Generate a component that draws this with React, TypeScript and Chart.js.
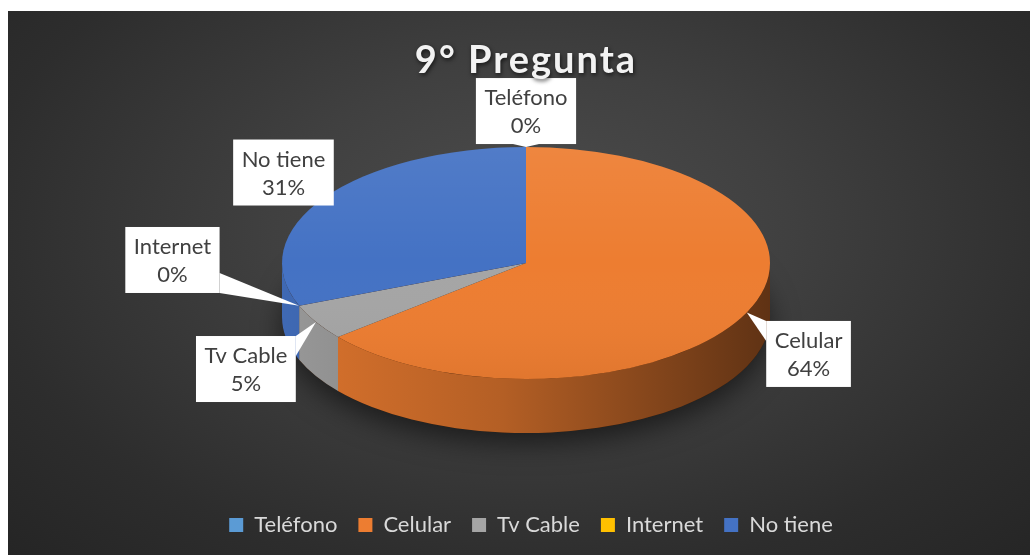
import React, { useEffect, useRef } from "react";
import { Chart, registerables } from "chart.js";

Chart.register(...registerables);

const titleText = "9° Pregunta";
const categories = ["Teléfono", "Celular", "Tv Cable", "Internet", "No tiene"];
const values = [0, 64, 5, 0, 31];
const colors = ["#5B9BD5", "#ED7D31", "#A5A5A5", "#FFC000", "#4472C4"];

// layout of the 3D pie (canvas pixels) and callout placement (relative to pie radii)
const PIE = { cx: 518, cy: 252, rx: 244, ry: 116, depth: 54 };
const labelPlacement = [
  [0, -1.31],
  [1.158, 0.784],
  [-1.148, 0.914],
  [-1.449, -0.026],
  [-0.994, -0.78],
];

const FONT = "Lato, 'Open Sans', sans-serif";

function shade(hex: string, f: number) {
  const n = parseInt(hex.slice(1), 16);
  const r = Math.round(((n >> 16) & 255) * f);
  const g = Math.round(((n >> 8) & 255) * f);
  const b = Math.round((n & 255) * f);
  return `rgb(${Math.min(255, r)},${Math.min(255, g)},${Math.min(255, b)})`;
}

const pie3d = {
  id: "pie3d",
  beforeDatasetsDraw(chart: any) {
    const ctx = chart.ctx as CanvasRenderingContext2D;
    const arcs = chart.getDatasetMeta(0).data;
    if (!arcs.length) return;
    const { cx, cy, rx, ry, depth } = PIE;
    ctx.save();
    // soft shadow under the pie
    ctx.save();
    ctx.shadowColor = "rgba(0,0,0,0.55)";
    ctx.shadowBlur = 28;
    ctx.shadowOffsetY = 10;
    ctx.beginPath();
    ctx.ellipse(cx, cy + depth, rx, ry, 0, 0, Math.PI * 2);
    ctx.fillStyle = "#3a1c08";
    ctx.fill();
    ctx.restore();
    // extruded sides
    arcs.forEach((arc: any, i: number) => {
      const p = arc.getProps(["startAngle", "endAngle"], true);
      const a0 = Math.max(p.startAngle, 0);
      const a1 = Math.min(p.endAngle, Math.PI);
      if (a1 <= a0) return;
      const base = colors[i];
      const grad = ctx.createLinearGradient(cx - rx, 0, cx + rx, 0);
      grad.addColorStop(0, shade(base, 0.92));
      grad.addColorStop(0.45, shade(base, 0.76));
      grad.addColorStop(1, shade(base, 0.4));
      ctx.beginPath();
      ctx.ellipse(cx, cy, rx, ry, 0, a0, a1, false);
      ctx.ellipse(cx, cy + depth, rx, ry, 0, a1, a0, true);
      ctx.closePath();
      ctx.fillStyle = grad;
      ctx.fill();
    });
    // map the library's circular pie onto the ellipse top face
    const a = arcs[0];
    const { x, y, outerRadius } = a.getProps(["x", "y", "outerRadius"], true);
    ctx.translate(cx, cy);
    ctx.scale(rx / outerRadius, ry / outerRadius);
    ctx.translate(-x, -y);
  },
  afterDatasetsDraw(chart: any) {
    const ctx = chart.ctx as CanvasRenderingContext2D;
    ctx.restore();
    const { cx, cy, rx, ry } = PIE;
    // light overlay on top face
    ctx.save();
    ctx.beginPath();
    ctx.ellipse(cx, cy, rx, ry, 0, 0, Math.PI * 2);
    ctx.clip();
    const g = ctx.createLinearGradient(0, cy - ry, 0, cy + ry);
    g.addColorStop(0, "rgba(255,255,255,0.07)");
    g.addColorStop(0.5, "rgba(255,255,255,0.0)");
    g.addColorStop(1, "rgba(0,0,0,0.05)");
    ctx.fillStyle = g;
    ctx.fillRect(cx - rx, cy - ry, rx * 2, ry * 2);
    ctx.restore();

    // callout labels
    const arcs = chart.getDatasetMeta(0).data;
    const data = chart.data.datasets[0].data as number[];
    const total = data.reduce((s, v) => s + v, 0);
    ctx.save();
    ctx.font = `22px ${FONT}`;
    arcs.forEach((arc: any, i: number) => {
      const p = arc.getProps(["startAngle", "endAngle"], true);
      const mid = (p.startAngle + p.endAngle) / 2;
      const ax = cx + rx * Math.cos(mid);
      const ay = cy + ry * Math.sin(mid);
      const name = chart.data.labels[i];
      const pct = Math.round((data[i] / total) * 100) + "%";
      const w = Math.max(ctx.measureText(name).width, ctx.measureText(pct).width) + 17;
      const h = 66;
      const bx = cx + labelPlacement[i][0] * rx;
      const by = cy + labelPlacement[i][1] * ry;
      const L = bx - w / 2, R = bx + w / 2, T = by - h / 2, B = by + h / 2;
      ctx.fillStyle = "#ffffff";
      // leader wedge
      const px = Math.min(Math.max(ax, L), R);
      const py = Math.min(Math.max(ay, T), B);
      const dx = Math.abs(ax - px), dy = Math.abs(ay - py);
      if (dx > 0 || dy > 0) {
        ctx.beginPath();
        if (dy >= dx) {
          const x0 = Math.min(Math.max(px - 13, L), R - 26);
          ctx.moveTo(x0, py);
          ctx.lineTo(x0 + 26, py);
        } else {
          const y0 = Math.min(Math.max(py - 10, T), B - 20);
          ctx.moveTo(px, y0);
          ctx.lineTo(px, y0 + 20);
        }
        ctx.lineTo(ax, ay);
        ctx.closePath();
        ctx.fill();
      }
      ctx.fillRect(L, T, w, h);
      ctx.fillStyle = "#404040";
      ctx.textAlign = "center";
      ctx.textBaseline = "alphabetic";
      ctx.fillText(name, bx, by - 6);
      ctx.fillText(pct, bx, by + 22);
    });
    ctx.restore();

    // title
    ctx.save();
    ctx.font = `bold 38px ${FONT}`;
    (ctx as any).letterSpacing = "2px";
    ctx.textAlign = "center";
    ctx.textBaseline = "alphabetic";
    ctx.shadowColor = "rgba(0,0,0,0.65)";
    ctx.shadowBlur = 4;
    ctx.shadowOffsetX = 1;
    ctx.shadowOffsetY = 2;
    ctx.fillStyle = "#f2f2f2";
    ctx.fillText(titleText, 518, 62);
    ctx.restore();
  },
};

export default function App() {
  const ref = useRef<HTMLCanvasElement | null>(null);
  useEffect(() => {
    if (!ref.current) return;
    const chart = new Chart(ref.current, {
      type: "pie",
      data: {
        labels: categories,
        datasets: [
          {
            data: values,
            backgroundColor: colors,
            borderWidth: 0,
          },
        ],
      },
      options: {
        responsive: true,
        maintainAspectRatio: false,
        animation: false,
        layout: { padding: { top: 90, bottom: 9, left: 24 } },
        plugins: {
          legend: {
            position: "bottom",
            labels: {
              color: "#d9d9d9",
              font: { family: FONT, size: 22 },
              boxWidth: 14,
              boxHeight: 14,
              padding: 21,
            },
          },
          tooltip: { enabled: false },
        },
      },
      plugins: [pie3d],
    });
    return () => chart.destroy();
  }, []);
  return (
    <div
      style={{
        position: "fixed",
        left: 8,
        top: 11,
        right: 0,
        bottom: 0,
        background:
          "radial-gradient(ellipse farthest-corner at 51% 40%, #4d4d4d 0%, #404040 35%, #2d2d2d 75%, #252525 100%)",
      }}
    >
      <canvas ref={ref} />
    </div>
  );
}
